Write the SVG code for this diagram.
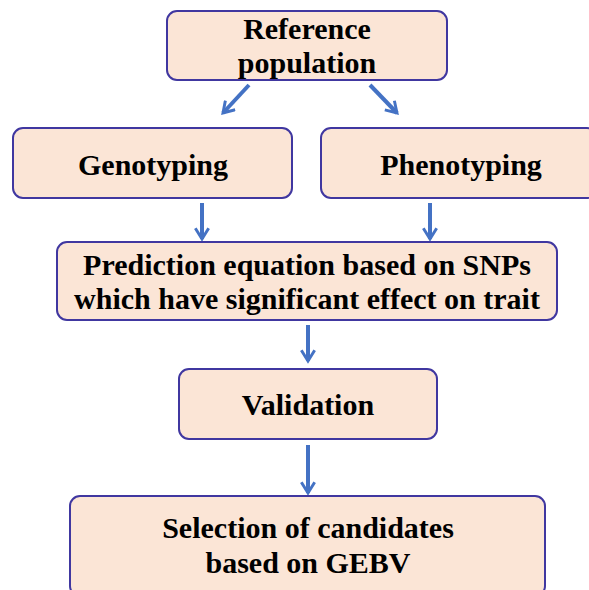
<svg xmlns="http://www.w3.org/2000/svg" width="589" height="590" viewBox="0 0 589 590">
<style>
.box{fill:#FBE5D6;stroke:#4037A0;stroke-width:2}
.t{font-family:"Liberation Serif","Times New Roman",serif;font-weight:bold;font-size:30px;fill:#000;text-anchor:middle}
.c{stroke:#4472C4;stroke-width:4;fill:none}
</style>
<defs>
<marker id="ah" viewBox="0 0 12 12" refX="10" refY="6" markerWidth="4" markerHeight="4" orient="auto" markerUnits="strokeWidth">
<polyline points="2,1 10,6 2,11" fill="none" stroke="#4472C4" stroke-width="2.2"/>
</marker>
</defs>
<rect width="589" height="590" fill="#fff"/>
<g id="connectors">
<line class="c" x1="249" y1="85" x2="223" y2="113" marker-end="url(#ah)"/>
<line class="c" x1="370" y1="85" x2="397" y2="113" marker-end="url(#ah)"/>
<line class="c" x1="202" y1="203" x2="202" y2="239" marker-end="url(#ah)"/>
<line class="c" x1="430" y1="203" x2="430" y2="239" marker-end="url(#ah)"/>
<line class="c" x1="308" y1="325" x2="308" y2="361" marker-end="url(#ah)"/>
<line class="c" x1="308" y1="445" x2="308" y2="493" marker-end="url(#ah)"/>
</g>
<g id="reference">
<rect class="box" x="167" y="11" width="280" height="69" rx="10"/>
<text class="t" x="307" y="39">Reference</text>
<text class="t" x="307" y="73">population</text>
</g>
<g id="genotyping">
<rect class="box" x="13" y="128" width="279" height="70" rx="10"/>
<text class="t" x="153" y="175">Genotyping</text>
</g>
<g id="phenotyping">
<rect class="box" x="321" y="128" width="276" height="70" rx="10"/>
<text class="t" x="461" y="175">Phenotyping</text>
</g>
<g id="prediction">
<rect class="box" x="57" y="242" width="500" height="78" rx="10"/>
<text class="t" x="307" y="275">Prediction equation based on SNPs</text>
<text class="t" x="307" y="309">which have significant effect on trait</text>
</g>
<g id="validation">
<rect class="box" x="179" y="369" width="258" height="70" rx="10"/>
<text class="t" x="308" y="415">Validation</text>
</g>
<g id="selection">
<rect class="box" x="70" y="496" width="475" height="100" rx="10"/>
<text class="t" x="308" y="538">Selection of candidates</text>
<text class="t" x="308" y="573">based on GEBV</text>
</g>
</svg>
